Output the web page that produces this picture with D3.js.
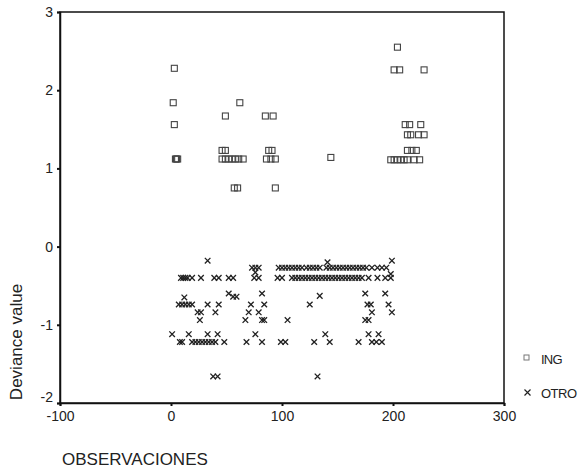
<!DOCTYPE html>
<html><head><meta charset="utf-8">
<script src="https://cdn.jsdelivr.net/npm/d3@7"></script>
<style>body{margin:0;background:#fff}svg{display:block}text{font-family:"Liberation Sans",Arial,sans-serif;fill:#222}</style>
</head><body>
<script>
const xTicks = [-100, 0, 100, 200, 300];
const yTicks = [-2, -1, 0, 1, 2, 3];
const seriesNames = ["ING", "OTRO"];
const xLabel = "OBSERVACIONES";
const yLabel = "Deviance value";

const ingX = [3,2,3,4,5,6, 49,62,46,49, 46,49,52,55,58,61,65, 57,60, 85,92,88,91,86,90,94,94, 144,
  204,201,206,228, 211,215,225, 213,216,223,228, 213,217,221, 198,201,204,207,210,213,219,224];
const ingY = [2.28,1.84,1.56,1.12,1.12,1.12, 1.67,1.84,1.23,1.23, 1.12,1.12,1.12,1.12,1.12,1.12,1.12, 0.75,0.75,
  1.67,1.67,1.23,1.23,1.12,1.12,1.12,0.75, 1.14,
  2.55,2.26,2.26,2.26, 1.56,1.56,1.56, 1.43,1.43,1.43,1.43, 1.23,1.23,1.23, 1.11,1.11,1.11,1.11,1.11,1.11,1.11,1.11];

const otroX = [33, 199, 141, 76, 198,
  73,76,79,97,100,103,106,109,112,115,118,122,125,128,131,134,140,143,146,149,152,155,158,161,164,167,170,173,176,181,186,190,194,
  9,11,13,15,19,27,39,43,52,56,75,79,96,100,109,112,115,118,121,124,127,130,133,136,139,142,145,148,151,154,157,160,163,166,169,172,178,186,193,198,
  12,52,56,59,82,175,193,134,
  7,10,13,16,19,33,43,72,84,125,177,180,196,
  24,27,40,70,79,181,199,
  26,67,82,84,105,175,178,
  1,16,33,42,76,139,178,187,
  8,10,19,22,25,28,31,34,37,40,48,68,82,99,103,129,143,169,181,185,190,
  38,42,132];
const otroY = [-0.18,-0.18,-0.2,-0.33,-0.35,
  -0.27,-0.27,-0.27,-0.27,-0.27,-0.27,-0.27,-0.27,-0.27,-0.27,-0.27,-0.27,-0.27,-0.27,-0.27,-0.27,-0.27,-0.27,-0.27,-0.27,-0.27,-0.27,-0.27,-0.27,-0.27,-0.27,-0.27,-0.27,-0.27,-0.27,-0.27,-0.27,-0.27,
  -0.4,-0.4,-0.4,-0.4,-0.4,-0.4,-0.4,-0.4,-0.4,-0.4,-0.4,-0.4,-0.4,-0.4,-0.4,-0.4,-0.4,-0.4,-0.4,-0.4,-0.4,-0.4,-0.4,-0.4,-0.4,-0.4,-0.4,-0.4,-0.4,-0.4,-0.4,-0.4,-0.4,-0.4,-0.4,-0.4,-0.4,-0.4,-0.4,-0.4,
  -0.65,-0.6,-0.64,-0.64,-0.6,-0.6,-0.6,-0.63,
  -0.74,-0.74,-0.74,-0.74,-0.74,-0.74,-0.74,-0.74,-0.74,-0.74,-0.74,-0.74,-0.74,
  -0.84,-0.84,-0.84,-0.84,-0.84,-0.84,-0.84,
  -0.94,-0.94,-0.94,-0.94,-0.94,-0.94,-0.94,
  -1.12,-1.12,-1.12,-1.12,-1.12,-1.12,-1.12,-1.12,
  -1.22,-1.22,-1.22,-1.22,-1.22,-1.22,-1.22,-1.22,-1.22,-1.22,-1.22,-1.22,-1.22,-1.22,-1.22,-1.22,-1.22,-1.22,-1.22,-1.22,-1.22,
  -1.66,-1.66,-1.66];

const W = 579, H = 470;
const svg = d3.select("body").append("svg").attr("width", W).attr("height", H);
const x = d3.scaleLinear().domain([-100, 300]).range([60, 504]);
const y = d3.scaleLinear().domain([-2, 3]).range([403, 12]);

// frame
svg.append("rect").attr("x", x(-100)).attr("y", y(3))
  .attr("width", x(300) - x(-100)).attr("height", y(-2) - y(3))
  .attr("fill", "none").attr("stroke", "#111").attr("stroke-width", 1.5);

const xAxis = svg.append("g").attr("transform", `translate(0,${y(-2)})`)
  .call(d3.axisBottom(x).tickValues(xTicks).tickSize(3).tickPadding(5).tickFormat(d3.format("d")));
const yAxis = svg.append("g").attr("transform", `translate(${x(-100)},0)`)
  .call(d3.axisLeft(y).tickValues(yTicks).tickSize(3).tickPadding(4).tickFormat(d3.format("d")));
[xAxis, yAxis].forEach(g => {
  g.select(".domain").attr("stroke", "#111").attr("stroke-width", 1.5);
  g.selectAll(".tick line").attr("stroke", "#111").attr("stroke-width", 2);
  g.selectAll(".tick text").attr("font-size", 14).attr("fill", "#222")
    .attr("font-family", "'Liberation Sans', Arial, sans-serif");
});
xAxis.selectAll(".tick text").text(d => d < 0 ? "-" + Math.abs(d) : d);
yAxis.selectAll(".tick text").text(d => d < 0 ? "-" + Math.abs(d) : d);
// lowest y label sits slightly above its tick, as in the original
yAxis.selectAll(".tick").filter(d => d === -2).select("text").attr("dy", "-0.1em");

const ing = ingX.map((v, i) => ({x: v, y: ingY[i]}));
const otro = otroX.map((v, i) => ({x: v, y: otroY[i]}));

const s = 3;
svg.append("g").selectAll("rect").data(ing).join("rect")
  .attr("x", d => x(d.x) - s).attr("y", d => y(d.y) - s)
  .attr("width", 2 * s).attr("height", 2 * s)
  .attr("fill", "none").attr("stroke", "#444").attr("stroke-width", 1.1);

const c = 2.8;
svg.append("g").selectAll("path").data(otro).join("path")
  .attr("d", d => {
    const px = x(d.x), py = y(d.y);
    return `M${px - c},${py - c}L${px + c},${py + c}M${px - c},${py + c}L${px + c},${py - c}`;
  })
  .attr("stroke", "#222").attr("stroke-width", 1.3).attr("fill", "none");

// legend
const lg = svg.append("g");
lg.append("rect").attr("x", 524).attr("y", 355).attr("width", 5).attr("height", 5)
  .attr("fill", "none").attr("stroke", "#777").attr("stroke-width", 1);
lg.append("text").attr("x", 541).attr("y", 364).attr("font-size", 13).attr("letter-spacing", -0.8).text(seriesNames[0]);
lg.append("path").attr("d", "M524.5,389.5L530.5,395.5M524.5,395.5L530.5,389.5")
  .attr("stroke", "#222").attr("stroke-width", 1.2);
lg.append("text").attr("x", 541).attr("y", 398).attr("font-size", 13).attr("letter-spacing", -0.5).text(seriesNames[1]);

// axis titles
svg.append("text").attr("transform", "translate(22,342) rotate(-90)")
  .attr("text-anchor", "middle").attr("font-size", 17).text(yLabel);
svg.append("text").attr("x", 62).attr("y", 465).attr("font-size", 17).text(xLabel);
</script>
</body></html>
